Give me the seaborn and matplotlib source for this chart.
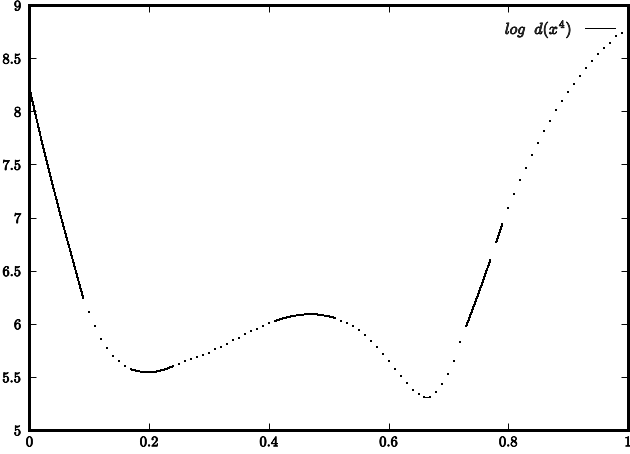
import numpy as np
import pandas as pd
import seaborn as sns
import matplotlib.pyplot as plt
import matplotlib.patheffects as pe

# sampled curve, x on a 0.01 grid
x_vals = np.round(np.arange(0, 1.0001, 0.01), 2)
y_vals = [8.22, 7.97, 7.73, 7.50, 7.28, 7.06, 6.85, 6.65, 6.44, 6.24,
          6.11, 5.98, 5.855, 5.775, 5.70, 5.645, 5.60, 5.57, 5.555, 5.545,
          5.543, 5.548, 5.56, 5.578, 5.60, 5.625, 5.646, 5.668, 5.684, 5.703,
          5.725, 5.762, 5.784, 5.807, 5.844, 5.869, 5.901, 5.932, 5.953, 5.98,
          6.005, 6.026, 6.045, 6.06, 6.073, 6.082, 6.088, 6.09, 6.088, 6.08,
          6.07, 6.055, 6.03, 6.004, 5.979, 5.938, 5.891, 5.835, 5.778, 5.718,
          5.646, 5.574, 5.505, 5.44, 5.38, 5.34, 5.315, 5.315, 5.355, 5.43,
          5.53, 5.65, 5.83, 5.98, 6.13, 6.28, 6.44, 6.60, 6.77, 6.94,
          7.09, 7.22, 7.35, 7.47, 7.59, 7.70, 7.81, 7.91, 8.01, 8.10,
          8.18, 8.26, 8.335, 8.405, 8.47, 8.535, 8.60, 8.645, 8.71, 8.74,
          8.77]

# stretches where the points are dense enough to look like a solid line
seg_start = [0.00, 0.17, 0.41, 0.66, 0.73, 0.78]
seg_end = [0.09, 0.24, 0.51, 0.67, 0.77, 0.79]

xticks = [0, 0.2, 0.4, 0.6, 0.8, 1]
xtick_labels = ['0', '0.2', '0.4', '0.6', '0.8', '1']
yticks = [5, 5.5, 6, 6.5, 7, 7.5, 8, 8.5, 9]
ytick_labels = ['5', '5.5', '6', '6.5', '7', '7.5', '8', '8.5', '9']

df = pd.DataFrame({'x': x_vals, 'y': y_vals})
parts = []
for i, (a, b) in enumerate(zip(seg_start, seg_end)):
    part = df[(df['x'] >= a - 1e-9) & (df['x'] <= b + 1e-9)].copy()
    part['seg'] = i
    parts.append(part)
seg_df = pd.concat(parts)

sns.set_style('ticks')
plt.rcParams['font.family'] = ['cmr10', 'DejaVu Serif']
plt.rcParams['mathtext.fontset'] = 'cm'
plt.rcParams['axes.formatter.use_mathtext'] = True
# the original is a non-antialiased bitmap
plt.rcParams['lines.antialiased'] = False
plt.rcParams['patch.antialiased'] = False

fig = plt.figure(figsize=(6.3, 4.54), dpi=100)
ax = fig.add_axes([0.0468, 0.0529, 0.95, 0.936])

sns.scatterplot(data=df, x='x', y='y', ax=ax, color='black', marker='s',
                s=1.0, linewidth=0, legend=False, antialiased=False)
sns.lineplot(data=seg_df, x='x', y='y', units='seg', estimator=None, ax=ax,
             color='black', linewidth=0.65, legend=False)

# legend entry drawn as a plain line sample
ax.plot([], [], color='black', linewidth=0.65, label=r'$log\ \ d(x^4)$')
leg = ax.legend(loc='upper right', frameon=False, markerfirst=False,
                fontsize=11.5, handlelength=1.9, borderaxespad=0.4,
                handletextpad=0.8)

ax.set_xlim(0, 1)
ax.set_ylim(5, 9)
ax.set_xticks(xticks)
ax.set_xticklabels(xtick_labels)
ax.set_yticks(yticks)
ax.set_yticklabels(ytick_labels)
ax.set_xlabel('')
ax.set_ylabel('')
ax.tick_params(direction='in', length=5, width=0.7, top=True, right=True,
               labelsize=10.5, colors='black')
ax.tick_params(axis='x', pad=4)
ax.tick_params(axis='y', pad=6)
for sp in ax.spines.values():
    sp.set_visible(True)
    sp.set_linewidth(0.75)
    sp.set_color('black')
    sp.set_antialiased(False)

# the bitmap fonts of the original look a little heavier
heavy = [pe.withStroke(linewidth=0.5, foreground='black')]
for t in ax.get_xticklabels() + ax.get_yticklabels() + leg.get_texts():
    t.set_path_effects(heavy)

fig.savefig('out.png', dpi=100)
